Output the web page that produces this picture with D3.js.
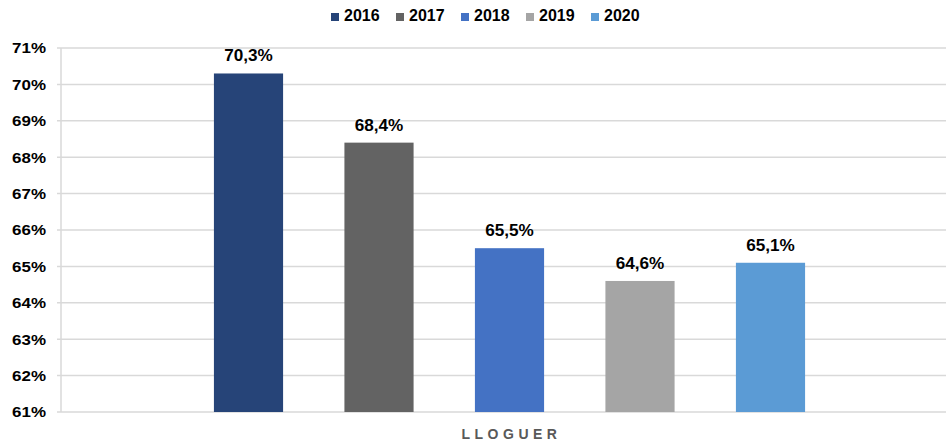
<!DOCTYPE html>
<html>
<head>
<meta charset="utf-8">
<script src="https://cdn.jsdelivr.net/npm/d3@7"></script>
<style>
  html, body { margin: 0; padding: 0; background: #fff; }
  svg { display: block; font-family: "Liberation Sans", Arial, sans-serif; }
</style>
</head>
<body>
<svg id="chart" width="946" height="444"></svg>
<script>
const categories = ["LLOGUER"];
const years = ["2016", "2017", "2018", "2019", "2020"];
const values = [0.703, 0.684, 0.655, 0.646, 0.651];
const labels = ["70,3%", "68,4%", "65,5%", "64,6%", "65,1%"];
const yTicks = [0.61, 0.62, 0.63, 0.64, 0.65, 0.66, 0.67, 0.68, 0.69, 0.70, 0.71];
const colors = ["#264478", "#636363", "#4472C4", "#A5A5A5", "#5B9BD5"];

(function () {
const svg = d3.select("#chart");
const W = 946;
const mLeft = 61, mTop = 48, mBottom = 412;

function stretch(sel, f) {
  sel.each(function () {
    const len = this.getComputedTextLength();
    d3.select(this).attr("textLength", len * f).attr("lengthAdjust", "spacingAndGlyphs");
  });
}

const y = d3.scaleLinear().domain([0.61, 0.71]).range([mBottom, mTop]);
const x0 = d3.scaleBand().domain(categories).range([mLeft, 958]).padding(0.1578);
const x1 = d3.scaleBand().domain(years).range([0, x0.bandwidth()]).paddingInner(0.47).paddingOuter(0.235);
const color = d3.scaleOrdinal().domain(years).range(colors);

// gridlines
svg.append("g").selectAll("line").data(yTicks).join("line")
  .attr("x1", mLeft - 4).attr("x2", W)
  .attr("y1", d => y(d)).attr("y2", d => y(d))
  .attr("stroke", "#d9d9d9").attr("stroke-width", 1.5);

// y axis line
svg.append("line").attr("x1", mLeft).attr("x2", mLeft).attr("y1", mTop).attr("y2", mBottom)
  .attr("stroke", "#d9d9d9").attr("stroke-width", 1.5);

// y tick labels
const yAxis = d3.axisLeft(y).tickValues(yTicks).tickSize(0).tickPadding(0)
  .tickFormat(d => Math.round(d * 100) + "%");
const ga = svg.append("g").attr("transform", `translate(${mLeft - 15},0)`).call(yAxis);
ga.select(".domain").remove();
ga.selectAll("text").attr("font-size", 15).attr("font-weight", "bold").attr("fill", "#000")
  .attr("font-family", "Liberation Sans, Arial, sans-serif");
stretch(ga.selectAll("text"), 1.13);

// bars
const g = svg.append("g");
categories.forEach(cat => {
  const data = years.map((yr, i) => ({ yr, v: values[i], lab: labels[i] }));
  g.selectAll("rect.b").data(data).join("rect")
    .attr("x", d => x0(cat) + x1(d.yr))
    .attr("width", x1.bandwidth())
    .attr("y", d => y(d.v))
    .attr("height", d => y(0.61) - y(d.v))
    .attr("fill", d => color(d.yr));
  const vt = g.selectAll("text.v").data(data).join("text")
    .attr("x", d => x0(cat) + x1(d.yr) + x1.bandwidth() / 2)
    .attr("y", d => y(d.v) - 12)
    .attr("text-anchor", "middle")
    .attr("font-size", 16).attr("font-weight", "bold").attr("fill", "#000")
    .text(d => d.lab);
  stretch(vt, 1.07);
});

// x category label
svg.append("g").selectAll("text").data(categories).join("text")
  .attr("x", d => x0(d) + x0.bandwidth() / 2 + 2)
  .attr("y", 439)
  .attr("text-anchor", "middle")
  .attr("font-size", 14).attr("font-weight", "bold").attr("fill", "#595959")
  .attr("letter-spacing", "4.5px")
  .text(d => d);

// legend
const lg = svg.append("g").selectAll("g").data(years).join("g")
  .attr("transform", (d, i) => `translate(${331 + i * 65},0)`);
lg.append("rect").attr("x", 0).attr("y", 13).attr("width", 8).attr("height", 8)
  .attr("fill", d => color(d));
lg.append("text").attr("x", 13).attr("y", 21)
  .attr("font-size", 16).attr("font-weight", "bold").attr("fill", "#000")
  .text(d => d);
})();
</script>
</body>
</html>
